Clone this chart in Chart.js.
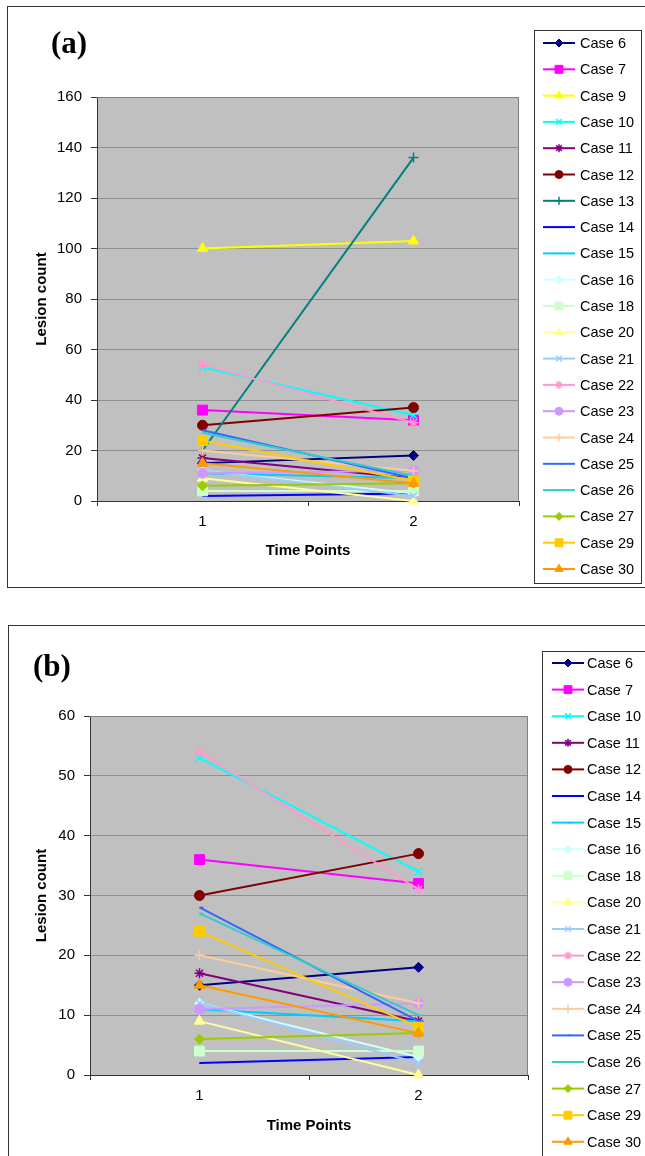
<!DOCTYPE html>
<html>
<head>
<meta charset="utf-8">
<script src="https://cdn.jsdelivr.net/npm/chart.js@4/dist/chart.umd.min.js"></script>
<style>
  body { margin: 0; background: #fff; width: 645px; height: 1156px; overflow: hidden; position: relative; }
  .panel { position: absolute; left: 0; width: 645px; }
  #wrapA { top: 0; height: 600px; }
  #wrapB { top: 620px; height: 536px; }
</style>
</head>
<body>
<div class="panel" id="wrapA"><canvas id="chartA" width="645" height="600"></canvas></div>
<div class="panel" id="wrapB"><canvas id="chartB" width="645" height="536"></canvas></div>
<script>
Chart.defaults.font.family = '"Liberation Sans", Arial, sans-serif';
Chart.defaults.font.size = 15;
Chart.defaults.color = '#000';
Chart.defaults.animation = false;

// data
const timePoints = ['1', '2'];
const caseNames = ['Case 6', 'Case 7', 'Case 9', 'Case 10', 'Case 11', 'Case 12', 'Case 13',
    'Case 14', 'Case 15', 'Case 16', 'Case 18', 'Case 20', 'Case 21', 'Case 22', 'Case 23',
    'Case 24', 'Case 25', 'Case 26', 'Case 27', 'Case 29', 'Case 30'];
const lesionsTime1 = [15, 36, 100, 53, 17, 30, 20, 2, 11, 12, 4, 9, 12, 54, 11, 20, 28, 27, 6, 24, 15];
const lesionsTime2 = [18, 32, 103, 34, 9, 37, 136, 3, 9, 3, 4, 0, 2, 31, 12, 12, 9, 10, 7, 8, 7];
const casesB = caseNames.filter(n => n !== 'Case 9' && n !== 'Case 13');
const ticksA = [0, 20, 40, 60, 80, 100, 120, 140, 160];
const ticksB = [0, 10, 20, 30, 40, 50, 60];

// Excel-like series styles
const caseColors = ['#000080', '#FF00FF', '#FFFF00', '#00FFFF', '#800080', '#800000', '#008080',
    '#0000FF', '#00CCFF', '#CCFFFF', '#CCFFCC', '#FFFF99', '#99CCFF', '#FF99CC', '#CC99FF',
    '#FFCC99', '#3366FF', '#33CCCC', '#99CC00', '#FFCC00', '#FF9900'];
const caseMarkers = ['rectRot', 'rect', 'triangle', 'crossRot', 'star', 'circle', 'cross',
    'dash', 'dash', 'rectRot', 'rect', 'triangle', 'crossRot', 'star', 'circle',
    'cross', 'dash', 'dash', 'rectRot', 'rect', 'triangle'];
const markerSize = {rectRot: 5, rect: 7, triangle: 6, circle: 5, crossRot: 5, star: 5, cross: 5, dash: 4};

function makeDatasets(names) {
    return names.map((name, k) => {
        const i = caseNames.indexOf(name);
        const style = caseMarkers[i];
        return {
            label: name,
            data: [lesionsTime1[i], lesionsTime2[i]],
            borderColor: caseColors[i],
            backgroundColor: caseColors[i],
            borderWidth: 2,
            pointStyle: style,
            pointRadius: markerSize[style],
            pointBorderWidth: (style === 'cross' || style === 'crossRot' || style === 'star' || style === 'dash') ? 1.5 : 1,
            pointHoverRadius: markerSize[style],
            order: names.length - k,
            clip: false
        };
    });
}

/*
 * white frame, panel letter and grey plot area
 */
const panelFrame = {
    id: 'panelFrame',
    beforeDraw(chart, args, opts) {
        const {ctx, chartArea: {left, top, right, bottom}} = chart;
        ctx.save();
        ctx.fillStyle = '#fff';
        ctx.fillRect(0, 0, chart.width, chart.height);
        ctx.strokeStyle = '#333';
        ctx.lineWidth = 1;
        ctx.strokeRect(opts.frame[0] + 0.5, opts.frame[1] + 0.5, opts.frame[2], opts.frame[3]);
        ctx.fillStyle = '#C0C0C0';
        ctx.fillRect(left, top, right - left, bottom - top);
        ctx.fillStyle = '#000';
        ctx.font = 'bold 31px "Liberation Serif", "Times New Roman", serif';
        ctx.textBaseline = 'alphabetic';
        ctx.fillText(opts.letter, opts.letterX, opts.letterY);
        ctx.restore();
    },
    beforeDatasetsDraw(chart) {
        const {ctx, chartArea: {left, top, right, bottom}} = chart;
        ctx.save();
        ctx.strokeStyle = '#808080';
        ctx.lineWidth = 1;
        ctx.beginPath();
        ctx.moveTo(left, top + 0.5);
        ctx.lineTo(right - 0.5, top + 0.5);
        ctx.lineTo(right - 0.5, bottom);
        ctx.stroke();
        ctx.restore();
    }
};

/*
 * legend box with line + marker samples
 */
const boxLegend = {
    id: 'boxLegend',
    afterDraw(chart, args, opts) {
        const ctx = chart.ctx;
        ctx.save();
        ctx.strokeStyle = '#333';
        ctx.lineWidth = 1;
        ctx.strokeRect(opts.box[0] + 0.5, opts.box[1] + 0.5, opts.box[2], opts.box[3]);
        const items = chart.data.datasets.slice();
        items.forEach((ds, i) => {
            const y = opts.first + i * opts.step;
            ctx.strokeStyle = ds.borderColor;
            ctx.lineWidth = 2;
            ctx.beginPath();
            ctx.moveTo(opts.lineX, y);
            ctx.lineTo(opts.lineX + 32, y);
            ctx.stroke();
            ctx.fillStyle = ds.backgroundColor;
            ctx.lineWidth = ds.pointBorderWidth;
            Chart.helpers.drawPoint(ctx, {
                pointStyle: ds.pointStyle,
                radius: ds.pointRadius * 0.8,
                rotation: 0,
                borderWidth: ds.pointBorderWidth
            }, opts.lineX + 16, y);
            ctx.fillStyle = '#000';
            ctx.font = '14.5px "Liberation Sans", Arial, sans-serif';
            ctx.textBaseline = 'middle';
            ctx.textAlign = 'left';
            ctx.fillText(ds.label, opts.textX, y + 1);
        });
        ctx.restore();
    }
};

function makeChart(canvasId, names, tickList, dims) {
    return new Chart(document.getElementById(canvasId), {
        type: 'line',
        plugins: [panelFrame, boxLegend],
        data: {
            labels: timePoints,
            datasets: makeDatasets(names)
        },
        options: {
            responsive: false,
            devicePixelRatio: 1,
            events: [],
            layout: {padding: dims.padding},
            plugins: {
                legend: {display: false},
                tooltip: {enabled: false},
                panelFrame: dims.frame,
                boxLegend: dims.legend
            },
            scales: {
                x: {
                    offset: true,
                    grid: {drawOnChartArea: false, offset: true, tickLength: 5, tickColor: '#333'},
                    border: {color: '#333', width: 1},
                    ticks: {padding: 7, maxRotation: 0},
                    title: {display: true, text: 'Time Points', font: {weight: 'bold'}, padding: 0},
                    afterFit(scale) { scale.height = dims.xHeight; }
                },
                y: {
                    min: tickList[0],
                    max: tickList[tickList.length - 1],
                    ticks: {stepSize: tickList[1] - tickList[0], padding: 9},
                    grid: {color: '#8f8f8f', tickColor: '#333', tickLength: 6},
                    border: {color: '#333', width: 1},
                    title: {display: true, text: 'Lesion count', font: {weight: 'bold'}, padding: 0},
                    afterFit(scale) { scale.width = dims.yWidth; }
                }
            }
        }
    });
}

makeChart('chartA', caseNames, ticksA, {
    padding: {left: 33, top: 97, right: 126, bottom: 40},
    yWidth: 64,
    xHeight: 59,
    frame: {frame: [7, 6, 660, 581], letter: '(a)', letterX: 51, letterY: 53},
    legend: {box: [534, 30, 107, 553], first: 43, step: 26.3, lineX: 543, textX: 580}
});

makeChart('chartB', casesB, ticksB, {
    padding: {left: 33, top: 96, right: 117, bottom: 21},
    yWidth: 57,
    xHeight: 60,
    frame: {frame: [8, 5, 660, 560], letter: '(b)', letterX: 33, letterY: 56},
    legend: {box: [542, 31, 120, 540], first: 43, step: 26.6, lineX: 552, textX: 587}
});
</script>
</body>
</html>
